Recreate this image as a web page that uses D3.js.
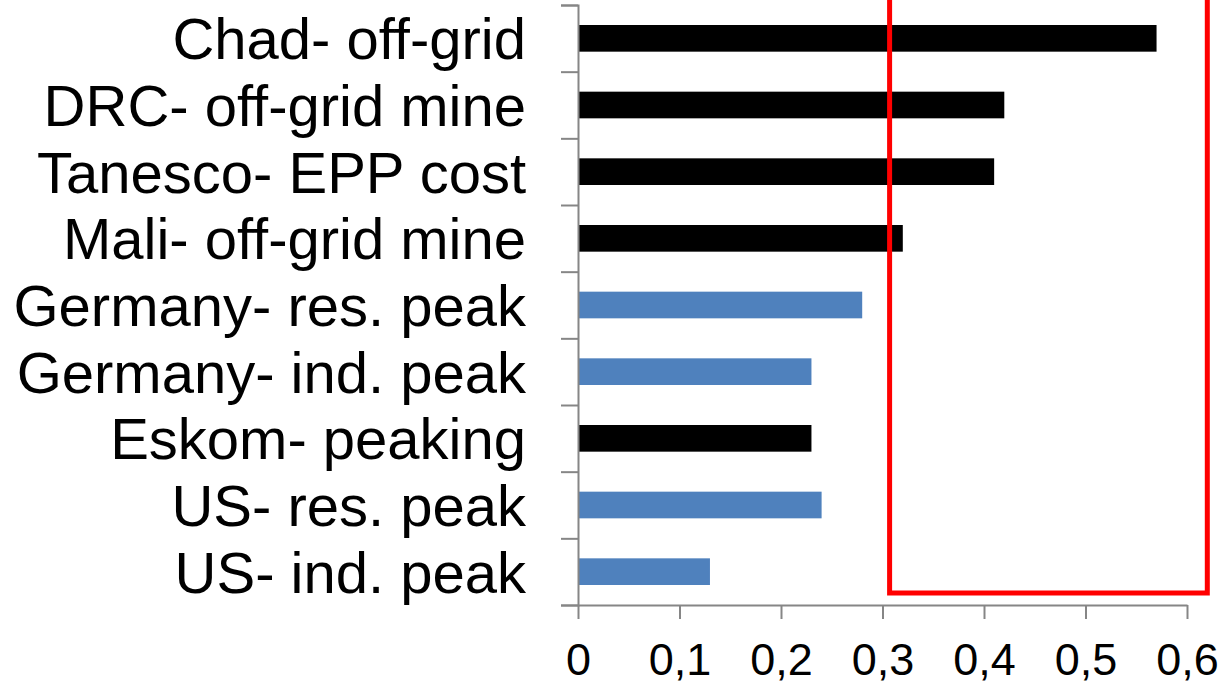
<!DOCTYPE html>
<html lang="en">
<head>
    <meta charset="UTF-8">
    <title>Peak electricity cost comparison</title>
    <script src="https://d3js.org/d3.v7.min.js"></script>
    <style>
        body {
            margin: 0;
            background: #fff;
            font-family: Arial, "Liberation Sans", sans-serif;
        }
        .axis path, .axis line {
            stroke: #868686;
            stroke-width: 2px;
        }
        .cat-label {
            font-size: 58px;
            fill: #000;
        }
        .x-axis text {
            font-size: 45px;
            fill: #000;
        }
    </style>
</head>
<body>
<div id="chart"></div>
<script>
    // data, top to bottom
    const categories = [
        "Chad- off-grid",
        "DRC- off-grid mine",
        "Tanesco- EPP cost",
        "Mali- off-grid mine",
        "Germany- res. peak",
        "Germany- ind. peak",
        "Eskom- peaking",
        "US- res. peak",
        "US- ind. peak"
    ];
    const values = [0.57, 0.42, 0.41, 0.32, 0.28, 0.23, 0.23, 0.24, 0.13];
    // "africa" bars are black, reference countries blue
    const groups = ["africa", "africa", "africa", "africa", "ref", "ref", "africa", "ref", "ref"];
    const xTicks = [0, 0.1, 0.2, 0.3, 0.4, 0.5, 0.6];
    const highlight = [0.307, 0.62];

    const colors = {africa: "#000000", ref: "#4F81BD"};

    const W = 1225, H = 685;
    const margin = {top: 5, right: 38, bottom: 80, left: 578};
    const width = W - margin.left - margin.right,
          height = H - margin.top - margin.bottom;

    const svg = d3.select("#chart").append("svg")
        .attr("width", W)
        .attr("height", H);
    const g = svg.append("g")
        .attr("transform", "translate(" + margin.left + "," + margin.top + ")");

    const x = d3.scaleLinear().domain([0, 0.6]).range([0, 609]);
    const y = d3.scaleBand().domain(categories).range([0, height]).padding(0);
    const yBound = d3.scaleLinear().domain([0, categories.length]).range([height, 0]);

    const rows = categories.map((c, i) => ({name: c, value: values[i], group: groups[i]}));

    // bars
    g.selectAll(".bar")
        .data(rows)
        .enter().append("rect")
        .attr("class", "bar")
        .attr("x", x(0))
        .attr("y", d => y(d.name) + y.bandwidth() * 0.3)
        .attr("width", d => x(d.value) - x(0))
        .attr("height", y.bandwidth() * 0.4)
        .attr("fill", d => colors[d.group]);

    // y axis: line + boundary ticks
    g.append("g")
        .attr("class", "axis")
        .call(d3.axisLeft(yBound).ticks(categories.length).tickFormat("").tickSize(17).tickSizeOuter(17));

    // category labels
    g.selectAll(".cat-label")
        .data(categories)
        .enter().append("text")
        .attr("class", "cat-label")
        .attr("x", -52)
        .attr("y", d => y(d) + y.bandwidth() / 2)
        .attr("dy", "0.36em")
        .attr("text-anchor", "end")
        .text(d => d);

    // x axis
    const fmt = v => v === 0 ? "0" : d3.format(".1f")(v).replace(".", ",");
    const xAxis = g.append("g")
        .attr("class", "axis x-axis")
        .attr("transform", "translate(0," + height + ")")
        .call(d3.axisBottom(x).tickValues(xTicks).tickFormat(fmt).tickSize(14).tickSizeOuter(0).tickPadding(24));
    xAxis.selectAll("text").style("font-family", "Arial, 'Liberation Sans', sans-serif");

    // red highlight box
    g.append("rect")
        .attr("x", x(highlight[0]))
        .attr("y", -20)
        .attr("width", x(highlight[1]) - x(highlight[0]))
        .attr("height", height + 20 - 12)
        .attr("fill", "none")
        .attr("stroke", "#FF0000")
        .attr("stroke-width", 5);
</script>
</body>
</html>
